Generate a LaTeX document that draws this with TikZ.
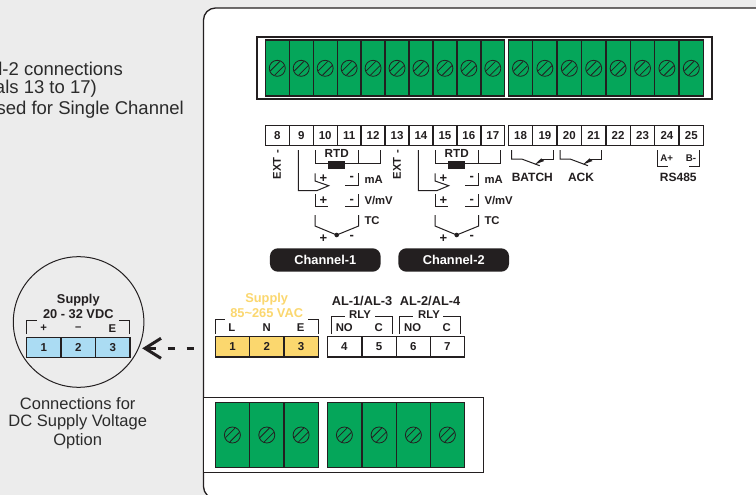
\documentclass[tikz,border=0pt]{standalone}
\usepackage{fontspec}
\setmainfont{Liberation Sans}
\definecolor{bgc}{HTML}{ECECEC}
\definecolor{grn}{HTML}{05A65A}
\definecolor{yel}{HTML}{FBD76E}
\definecolor{blu}{HTML}{ABDCF3}
\definecolor{ink}{HTML}{231F20}
\definecolor{txt}{HTML}{2B2B2B}
\newcommand{\myscrew}[2]{%
  \draw[screwline] (#1,#2) circle[radius=8];
  \draw[screwline] (#1-6.9,#2+2.6) -- (#1+2.6,#2-6.9);
  \draw[screwline] (#1-2.6,#2+6.9) -- (#1+6.9,#2-2.6);
}
\newcommand{\mysw}[1]{%
  \draw[wire] (#1,150) -- (#1,159) -- (#1+10,159) -- (#1+28,165.7);
  \draw[wire] (#1+41.5,150) -- (#1+41.5,159) -- (#1+30,159);
  \fill[ink] (#1+23,164.5) -- (#1+29.5,158.4) -- (#1+32.5,161) -- cycle;
}
\tikzset{
  boxline/.style={draw=ink,line width=1.3pt},
  wire/.style={draw=ink,line width=1pt},
  screwline/.style={draw=ink,line width=0.8pt},
  cell/.style={boxline,fill=grn,inner sep=0pt,outer sep=0pt,anchor=north west},
  term/.style={boxline,fill=white,inner sep=0pt,outer sep=0pt,anchor=north west,minimum height=20.4pt,font=\fontsize{11.5}{12}\bfseries,text=ink},
  lab/.style={inner sep=0pt,font=\fontsize{11.3}{13}\bfseries,text=ink},
  sign/.style={inner sep=0pt,font=\fontsize{13}{13}\bfseries,text=ink},
  mid/.style={inner sep=0pt,font=\fontsize{12}{13}\bfseries,text=ink},
  big/.style={inner sep=0pt,font=\fontsize{12.8}{14}\bfseries,text=ink},
  tiny/.style={inner sep=0pt,font=\fontsize{9.7}{11}\bfseries,text=ink},
  note/.style={inner sep=0pt,font=\fontsize{16.5}{19}\selectfont,text=txt},
  noteb/.style={inner sep=0pt,font=\fontsize{18.5}{21}\selectfont,text=txt,anchor=east},
  pill/.style={fill=ink,rounded corners=8pt,inner sep=0pt,outer sep=0pt,minimum width=110.7pt,minimum height=23.4pt,text=white,font=\fontsize{12.8}{14}\bfseries},
}
\begin{document}
\begin{tikzpicture}[x=1pt,y=-1pt]
\useasboundingbox (0,0) rectangle (756,495);
\fill[bgc] (0,0) rectangle (756,495);
% panel
\path[fill=white,draw=ink,line width=1.3pt,rounded corners=12pt] (770,8) -- (203.5,8) -- (203.5,498.5) -- (770,498.5);
% top strip
\draw[boxline,fill=white] (257,37) rectangle (712,99);
\foreach \i in {0,...,9}{
  \pgfmathsetmacro{\xa}{265.3+23.95*\i}
  \node[cell,minimum width=23.95pt,minimum height=56pt] (ga\i) at (\xa,40) {};
  \myscrew{\xa+11.97}{68.3}
  \pgfmathtruncatemacro{\n}{8+\i}
  \node[term,minimum width=23.95pt] (ta\n) at (\xa,125.3) {\n};
}
\foreach \i in {0,...,7}{
  \pgfmathsetmacro{\xa}{508.3+24.4*\i}
  \node[cell,minimum width=24.4pt,minimum height=56pt] (gb\i) at (\xa,40) {};
  \myscrew{\xa+12.2}{68.3}
  \pgfmathtruncatemacro{\n}{18+\i}
  \node[term,minimum width=24.4pt] (tb\n) at (\xa,125.3) {\n};
}
% channels
\foreach \o/\e/\c/\px in {0/1/Channel-1/325.3,120/2/Channel-2/453.7}{
  \begin{scope}[xshift=\o pt]
    \node[lab,rotate=90,anchor=east] (ext\e) at (277,150) {EXT -};
    \draw[wire] (298.3,150) -- (298.3,190.7) -- (316.7,190.7) -- (328.7,185.7) -- (315,181) -- (315,173.3);
    \draw[wire] (315,150) -- (315,163.3) -- (380.7,163.3) -- (380.7,150);
    \draw[wire] (358.7,150) -- (358.7,163.3);
    \fill[ink] (328.3,161.3) rectangle (345,168.7);
    \node[lab,font=\fontsize{11.7}{13}\bfseries] (rtd\e) at (336.7,153.5) {RTD};
    \draw[wire] (345,185.7) -- (358.7,185.7) -- (358.7,173.3);
    \node[sign] (pa\e) at (323.3,179) {+};
    \node[sign] (ma\e) at (351.7,178.5) {-};
    \node[lab,anchor=west] (mat\e) at (364.3,179.5) {mA};
    \draw[wire] (315,194) -- (315,206.7) -- (328.3,206.7);
    \draw[wire] (345,206.7) -- (358.7,206.7) -- (358.7,194);
    \node[sign] (pb\e) at (323.3,201) {+};
    \node[sign] (mb\e) at (351.7,201) {-};
    \node[lab,anchor=west] (vt\e) at (364.3,201) {V/mV};
    \draw[wire] (315,215) -- (315,226) -- (336.7,235) -- (358.7,226) -- (358.7,215);
    \fill[ink] (336.7,235) circle[radius=2.3];
    \node[lab,anchor=west] (tc\e) at (364.3,221) {TC};
    \node[sign] (pc\e) at (323.3,238.5) {+};
    \node[sign] (mc\e) at (351.7,237.5) {-};
  \end{scope}
  \node[pill] (ch\e) at (\px,260) {\c};
}
% switches
\mysw{511.7}
\mysw{560}
\node[mid] (batch) at (532.3,177.7) {BATCH};
\node[mid] (ack) at (581,177.7) {ACK};
\draw[wire] (657.7,150) -- (657.7,166) -- (668,166);
\draw[wire] (699.3,150) -- (699.3,166) -- (689,166);
\node[tiny] (ap) at (666.7,158.3) {A+};
\node[tiny] (bm) at (691,158.3) {B-};
\node[mid] (rs) at (678.3,177.7) {RS485};
% DC circle
\draw[ink,line width=1pt] (78.6,322) circle[radius=65.3];
\node[big] (s1) at (78.3,300) {Supply};
\node[big] (s2) at (78.3,314.3) {20 - 32 VDC};
\draw[wire] (26.7,334) -- (26.7,320) -- (36.7,320);
\draw[wire] (119.3,320) -- (129.3,320) -- (129.3,334);
\node[lab] (c1) at (43.7,328.3) {+};
\node[lab] (c2) at (78.3,328.3) {--};
\node[lab] (c3) at (112.3,328.3) {E};
\foreach \n/\xa in {1/26.7,2/61.2,3/95.6}{
  \node[term,fill=blu,minimum width=34.4pt] (d\n) at (\xa,337.3) {\n};
}
% arrow
\coordinate (atip) at (145,348.3);
\coordinate (aa) at (161,338.3);
\coordinate (ab) at (161,358.3);
\coordinate (ac) at (156,348.3);
\draw[ink,line width=3pt,line join=miter] (aa) -- (atip) -- (ab);
\draw[ink,line width=3pt] (atip) -- (ac);
\draw[ink,line width=2.8pt] (167.7,348.3) -- (175,348.3);
\draw[ink,line width=2.8pt] (186.7,348.3) -- (194.3,348.3);
\node[note] (n1) at (77.7,403.5) {Connections for};
\node[note] (n2) at (77.7,422.7) {DC Supply Voltage};
\node[note] (n3) at (77.7,441.7) {Option};
% top-left note
\node[noteb] (tn1) at (123,68.5) {l-2 connections};
\node[noteb] (tn2) at (97,88.5) {als 13 to 17)};
\node[noteb] (tn3) at (184,110) {sed for Single Channel};
% AC terminals
\node[big,text=yel] (y1) at (266.7,299) {Supply};
\node[big,text=yel] (y2) at (266.7,313.3) {85{\char126}265 VAC};
\draw[wire] (215.3,334) -- (215.3,319.3) -- (225,319.3);
\draw[wire] (308.3,319.3) -- (318.3,319.3) -- (318.3,334);
\node[lab] (L) at (231.7,327.7) {L};
\node[lab] (N) at (266.7,327.7) {N};
\node[lab] (E) at (300.7,327.7) {E};
\foreach \n/\xa in {1/215.3,2/249.7,3/284}{
  \node[term,fill=yel,minimum width=34.3pt] (p\n) at (\xa,336.7) {\n};
}
\foreach \n/\xa in {4/327.3,5/362,6/396.3,7/430.3}{
  \node[term,minimum width=34.2pt] (p\n) at (\xa,336.7) {\n};
}
\node[big] (al1) at (362,300.7) {AL-1/AL-3};
\node[big] (al2) at (430,300.7) {AL-2/AL-4};
\node[lab] (r1) at (360,315) {RLY};
\node[lab] (r2) at (429,315) {RLY};
\draw[wire] (331,334) -- (331,316.7) -- (345,316.7);
\draw[wire] (375,316.7) -- (392.3,316.7) -- (392.3,334);
\draw[wire] (399.3,334) -- (399.3,316.7) -- (413.3,316.7);
\draw[wire] (443.3,316.7) -- (460.3,316.7) -- (460.3,334);
\node[lab] (no1) at (344.3,327.7) {NO};
\node[lab] (cc1) at (378.7,327.7) {C};
\node[lab] (no2) at (412.7,327.7) {NO};
\node[lab] (cc2) at (446.7,327.7) {C};
% bottom strip
\draw[boxline,fill=white] (203.5,397.3) rectangle (483.7,472.7);
\foreach \n/\xa in {1/215.3,2/249.7,3/284,4/327.3,5/362,6/396.3,7/430.3}{
  \node[cell,minimum width=34.2pt,minimum height=65.4pt] (q\n) at (\xa,402.3) {};
  \myscrew{\xa+17.1}{435}
}
\end{tikzpicture}
\end{document}
